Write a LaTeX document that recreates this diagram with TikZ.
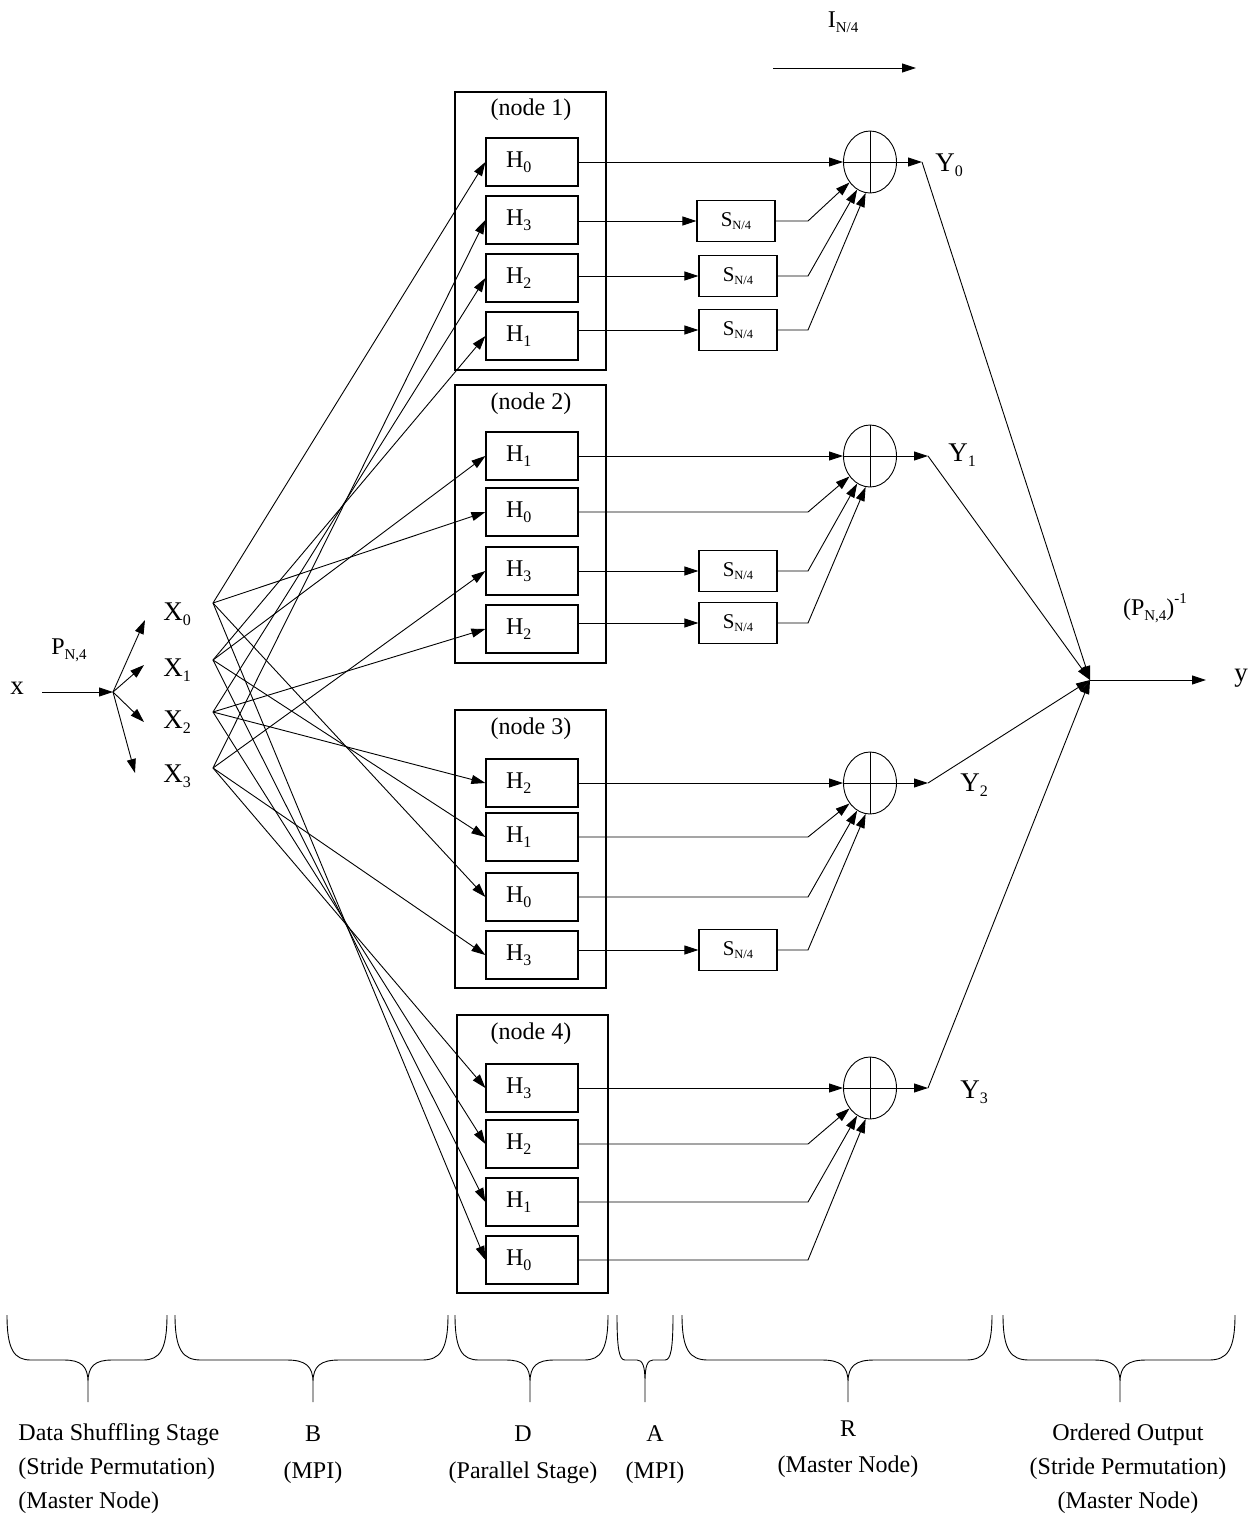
\documentclass[tikz,border=0pt]{standalone}
\usepackage{fontspec}
\setmainfont{Liberation Serif}
\usetikzlibrary{arrows.meta,shapes.geometric,calc}
\newcommand\lsub[1]{\raisebox{-0.42ex}{\fontsize{16}{16}\selectfont #1}}
\newcommand\ssub[1]{\raisebox{-2.5pt}{\fontsize{12.5}{12.5}\selectfont #1}}
\newcommand\psub[1]{\raisebox{-0.42ex}{\fontsize{15}{15}\selectfont #1}}
\newcommand\mybrace[4]{%
  \draw (#1,1315) .. controls (#1,1350) and (#1+#4*0.3,1360) .. (#1+#4,1360) -- (#2-#4,1360)
    .. controls (#2-#4*0.3,1360) and (#2,1366) .. (#2,1382) -- (#2,1402)
    (#2,1382) .. controls (#2,1366) and (#2+#4*0.3,1360) .. (#2+#4,1360) -- (#3-#4,1360)
    .. controls (#3-#4*0.3,1360) and (#3,1350) .. (#3,1315);}
\begin{document}
\begin{tikzpicture}[x=1pt,y=-1pt,line width=0.9pt,
  >={Triangle[length=14pt,width=9pt]},
  hbox/.style={draw,line width=1.2pt,minimum width=92pt,minimum height=48pt,inner sep=0pt,
     text width=52pt,align=left,font=\fontsize{24}{24}\selectfont},
  sbox/.style={draw,line width=1.2pt,minimum width=78pt,minimum height=41pt,inner sep=0pt,font=\fontsize{21}{21}\selectfont},
  nodebox/.style={draw,line width=1.2pt,minimum width=151pt,minimum height=278pt,inner sep=0pt},
  adder/.style={draw,ellipse,minimum width=53pt,minimum height=62pt,inner sep=0pt},
  ttl/.style={font=\fontsize{24}{24}\selectfont,inner sep=0pt},
  big/.style={font=\fontsize{27}{27}\selectfont,inner sep=0pt},
  mid/.style={font=\fontsize{24}{24}\selectfont,inner sep=0pt},
  btxt/.style={font=\fontsize{24}{24}\selectfont,inner sep=0pt}
]
\useasboundingbox (0,0) rectangle (1257,1515);

% node boxes
\node[nodebox] (n1) at (530.5,231) {};
\node[nodebox] (n2) at (530.5,524) {};
\node[nodebox] (n3) at (530.5,849) {};
\node[nodebox] (n4) at (532.5,1154) {};
\node[ttl] (t1) at (531,110) {(node 1)};
\node[ttl] (t2) at (531,404) {(node 2)};
\node[ttl] (t3) at (531,729) {(node 3)};
\node[ttl] (t4) at (531,1034) {(node 4)};

% H boxes
\node[hbox] (h10) at (532,162) {H\lsub{0}};
\node[hbox] (h13) at (532,220) {H\lsub{3}};
\node[hbox] (h12) at (532,278) {H\lsub{2}};
\node[hbox] (h11) at (532,336) {H\lsub{1}};
\node[hbox] (h21) at (532,456) {H\lsub{1}};
\node[hbox] (h20) at (532,512) {H\lsub{0}};
\node[hbox] (h23) at (532,571) {H\lsub{3}};
\node[hbox] (h22) at (532,629) {H\lsub{2}};
\node[hbox] (h32) at (532,783) {H\lsub{2}};
\node[hbox] (h31) at (532,837) {H\lsub{1}};
\node[hbox] (h30) at (532,897) {H\lsub{0}};
\node[hbox] (h33) at (532,955) {H\lsub{3}};
\node[hbox] (h43) at (532,1088) {H\lsub{3}};
\node[hbox] (h42) at (532,1144) {H\lsub{2}};
\node[hbox] (h41) at (532,1202) {H\lsub{1}};
\node[hbox] (h40) at (532,1260) {H\lsub{0}};

% S boxes
\node[sbox] (s1a) at (736,221) {S\ssub{N/4}};
\node[sbox] (s1b) at (738,276) {S\ssub{N/4}};
\node[sbox] (s1c) at (738,330) {S\ssub{N/4}};
\node[sbox] (s2a) at (738,571) {S\ssub{N/4}};
\node[sbox] (s2b) at (738,623) {S\ssub{N/4}};
\node[sbox] (s3a) at (738,950) {S\ssub{N/4}};

% adders
\foreach \k/\yy in {1/162,2/456,3/783,4/1088}{
  \node[adder] (a\k) at (870,\yy) {};
  \draw (a\k.north) -- (a\k.south) (a\k.west) -- (a\k.east);
}
\coordinate (bx) at (808,0);

% node 1 paths
\draw[->] (h10.east) -- (a1.west);
\draw[->] (h13.east |- s1a) -- (s1a.west);
\draw[->] (h12.east |- s1b) -- (s1b.west);
\draw[->] (h11.east |- s1c) -- (s1c.west);
\draw[->] (s1a.east) -- (s1a.east -| bx) -- (a1.225);
\draw[->] (s1b.east) -- (s1b.east -| bx) -- (a1.245);
\draw[->] (s1c.east) -- (s1c.east -| bx) -- (a1.262);
% node 2
\draw[->] (h21.east) -- (a2.west);
\draw[->] (h20.east) -- (h20.east -| bx) -- (a2.225);
\draw[->] (h23.east |- s2a) -- (s2a.west);
\draw[->] (h22.east |- s2b) -- (s2b.west);
\draw[->] (s2a.east) -- (s2a.east -| bx) -- (a2.245);
\draw[->] (s2b.east) -- (s2b.east -| bx) -- (a2.262);
% node 3
\draw[->] (h32.east) -- (a3.west);
\draw[->] (h31.east) -- (h31.east -| bx) -- (a3.225);
\draw[->] (h30.east) -- (h30.east -| bx) -- (a3.245);
\draw[->] (h33.east |- s3a) -- (s3a.west);
\draw[->] (s3a.east) -- (s3a.east -| bx) -- (a3.262);
% node 4
\draw[->] (h43.east) -- (a4.west);
\draw[->] (h42.east) -- (h42.east -| bx) -- (a4.225);
\draw[->] (h41.east) -- (h41.east -| bx) -- (a4.245);
\draw[->] (h40.east) -- (h40.east -| bx) -- (a4.262);

% outputs
\coordinate (yo0) at (922,162);
\coordinate (yo1) at (928,456);
\coordinate (yo2) at (928,783);
\coordinate (yo3) at (928,1088);
\coordinate (J) at (1090,680);
\coordinate (yend) at (1206,680);
\foreach \k in {0,1,2,3}{
  \draw[->] (a\the\numexpr\k+1\relax.east) -- (yo\k);
  \draw[->] (yo\k) -- (J);
}
\draw[->] (J) -- (yend);
\node[big,anchor=west] (Y0) at (935,165) {Y\lsub{0}};
\node[big,anchor=west] (Y1) at (948,455) {Y\lsub{1}};
\node[big,anchor=west] (Y2) at (960,785) {Y\lsub{2}};
\node[big,anchor=west] (Y3) at (960,1092) {Y\lsub{3}};
\node[big] (ylab) at (1241,678) {y};
\node[mid] (pinv) at (1155,608) {(P\psub{N,4})\raisebox{1.1ex}{\fontsize{15}{15}\selectfont -1}};

% top
\node[mid] (I) at (843,22) {I\psub{N/4}};
\coordinate (ia) at (773,68);
\coordinate (ib) at (916,68);
\draw[->] (ia) -- (ib);

% left
\node[big] (xin) at (17,688) {x};
\node[mid] (P) at (69,650) {P\psub{N,4}};
\coordinate (xs) at (42,692);
\coordinate (pj) at (113,692);
\draw[->] (xs) -- (pj);
\coordinate (t0) at (145,620);
\coordinate (t1) at (144,665);
\coordinate (t2) at (144,722);
\coordinate (t3) at (135,773);
\foreach \k in {0,1,2,3}{ \draw[->] (pj) -- (t\k); }
\node[big,anchor=west] (X0) at (163,614) {X\lsub{0}};
\node[big,anchor=west] (X1) at (163,670) {X\lsub{1}};
\node[big,anchor=west] (X2) at (163,722) {X\lsub{2}};
\node[big,anchor=west] (X3) at (163,776) {X\lsub{3}};
\coordinate (xj0) at (213,603);
\coordinate (xj1) at (213,660);
\coordinate (xj2) at (213,712);
\coordinate (xj3) at (213,768);
\foreach \i in {0,1,2,3}{
  \foreach \n in {1,2,3,4}{
    \draw[->] (xj\i) -- (h\n\i.west);
  }
}

% braces
\mybrace{7}{88}{167}{24}
\mybrace{175}{313}{448}{26}
\mybrace{455}{530}{608}{24}
\mybrace{617}{645}{673}{8}
\mybrace{682}{848}{992}{26}
\mybrace{1003}{1120}{1235}{26}

% bottom labels
\node[btxt,anchor=base west] (ds1) at (18,1440) {Data Shuffling Stage};
\node[btxt,anchor=base west] (ds2) at (18,1474) {(Stride Permutation)};
\node[btxt,anchor=base west] (ds3) at (18,1508) {(Master Node)};
\node[btxt,anchor=base] (b1) at (313,1441) {B};
\node[btxt,anchor=base] (b2) at (313,1478) {(MPI)};
\node[btxt,anchor=base] (d1) at (523,1441) {D};
\node[btxt,anchor=base] (d2) at (523,1478) {(Parallel Stage)};
\node[btxt,anchor=base] (aa1) at (655,1441) {A};
\node[btxt,anchor=base] (aa2) at (655,1478) {(MPI)};
\node[btxt,anchor=base] (r1) at (848,1436) {R};
\node[btxt,anchor=base] (r2) at (848,1472) {(Master Node)};
\node[btxt,anchor=base] (o1) at (1128,1440) {Ordered Output};
\node[btxt,anchor=base] (o2) at (1128,1474) {(Stride Permutation)};
\node[btxt,anchor=base] (o3) at (1128,1508) {(Master Node)};
\end{tikzpicture}
\end{document}
